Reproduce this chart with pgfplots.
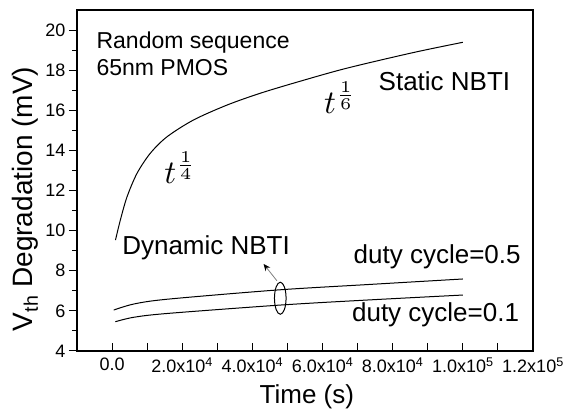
\documentclass[border=0pt]{standalone}
\usepackage{fontspec}
\setmainfont{Liberation Sans}
\usepackage{pgfplots}
\pgfplotsset{compat=1.18}
\usetikzlibrary{arrows.meta}
\begin{document}
\begin{tikzpicture}
\useasboundingbox (-77pt,-63pt) rectangle (489pt,351pt);
\begin{axis}[
 scale only axis, width=456pt, height=341pt,
 xmin=-10000, xmax=120000, ymin=4, ymax=21,
 axis line style={line width=1.2pt},
 scaled x ticks=false,
 xtick={0,10000,20000,30000,40000,50000,60000,70000,80000,90000,100000,110000,120000},
 xticklabels={0.0,,{2.0x10\textsuperscript{4}},,{4.0x10\textsuperscript{4}},,{6.0x10\textsuperscript{4}},,{8.0x10\textsuperscript{4}},,{1.0x10\textsuperscript{5}},,{1.2x10\textsuperscript{5}}},
 ytick={4,6,...,20}, minor ytick={5,7,...,19},
 tick pos=left,
 xtick align=inside, ytick align=outside,
 major tick length=8pt, minor tick length=5pt,
 tick style={line width=1pt, black},
 ticklabel style={font=\fontsize{18}{20}\selectfont},
 xticklabel style={yshift=-3pt},
 /pgf/number format/assume math mode=true,
 xlabel={Time (s)}, ylabel={V\textsubscript{th} Degradation (mV)},
 xlabel style={font=\fontsize{26}{30}\selectfont, at={(axis description cs:0.504,-0.135)},anchor=center},
 ylabel style={font=\fontsize{28}{30}\selectfont, at={(axis description cs:-0.114,0.446)},anchor=center},
 clip=false,
]
% Static NBTI
\addplot[black, line width=1pt, smooth] coordinates {
(970,9.53) (2360,10.53) (4270,11.69) (7120,12.86) (10910,13.86) (15670,14.68)
(23250,15.52) (32760,16.26) (42250,16.85) (53650,17.45) (66950,18.10) (85930,18.88) (100000,19.39)};
% duty cycle 0.5
\addplot[black, line width=1pt, smooth] coordinates {
(460,6.04) (6150,6.34) (15670,6.58) (47000,7.04) (72650,7.31) (100000,7.59)};
% duty cycle 0.1
\addplot[black, line width=1pt, smooth] coordinates {
(940,5.46) (6150,5.68) (15670,5.87) (47950,6.29) (72650,6.54) (100000,6.79)};

\node[anchor=base west, font=\fontsize{23}{26}\selectfont, inner sep=0pt] at (axis cs:-4470,19.09) {Random sequence};
\node[anchor=base west, font=\fontsize{23}{26}\selectfont, inner sep=0pt] at (axis cs:-4470,17.71) {65nm PMOS};
\node[anchor=base west, font=\fontsize{26}{30}\selectfont, inner sep=0pt] at (axis cs:75950,17.01) {Static NBTI};
\node[anchor=base west, font=\normalsize, scale=3.3, transform shape, inner sep=0pt] at (axis cs:60290,15.85) {$t^{\frac{1}{6}}$};
\node[anchor=base west, font=\normalsize, scale=3.3, transform shape, inner sep=0pt] at (axis cs:14700,12.36) {$t^{\frac{1}{4}}$};
\node[anchor=base west, font=\fontsize{26}{30}\selectfont, inner sep=0pt] at (axis cs:2850,8.79) {Dynamic NBTI};
\node[anchor=base west, font=\fontsize{26}{30}\selectfont, inner sep=0pt] at (axis cs:68830,8.37) {duty cycle=0.5};
\node[anchor=base west, font=\fontsize{26}{30}\selectfont, inner sep=0pt] at (axis cs:68370,5.46) {duty cycle=0.1};
\draw[line width=1pt] (axis cs:47950,6.63) ellipse [x radius=5.8pt, y radius=16pt];
\draw[gray, line width=0.8pt, -{Stealth[black, length=7pt, width=6pt]}] (axis cs:47000,7.50) -- (axis cs:43190,8.34);
\end{axis}
\end{tikzpicture}
\end{document}
